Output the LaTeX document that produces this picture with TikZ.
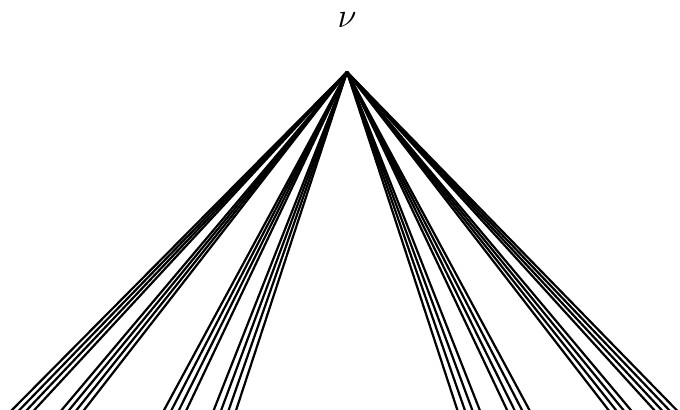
\documentclass[tikz,border=0pt]{standalone}
\usepackage{amsmath,amssymb}
\usepackage{tikz}
\usetikzlibrary{positioning}

\begin{document}
\begin{tikzpicture}[x=0.5pt, y=-0.5pt, every node/.style={font=\LARGE},
    leg/.style={line width=1.1pt, black}]
  \useasboundingbox (0,0) rectangle (680,409);
  % ---- vertex ----
  \coordinate (v) at (347,72);
  \node (lab) at (347,20) {$\nu$};
  % ---- legs, four per bundle ----
  \foreach \g in {10,60,163,213,458,508,610,656} {
    \foreach \k in {0,1,2,3} {
      \coordinate (e-\g-\k) at ({\g+7.5*\k},412);
      \draw[leg] (v) -- (e-\g-\k);
    }
  }
\end{tikzpicture}
\end{document}
